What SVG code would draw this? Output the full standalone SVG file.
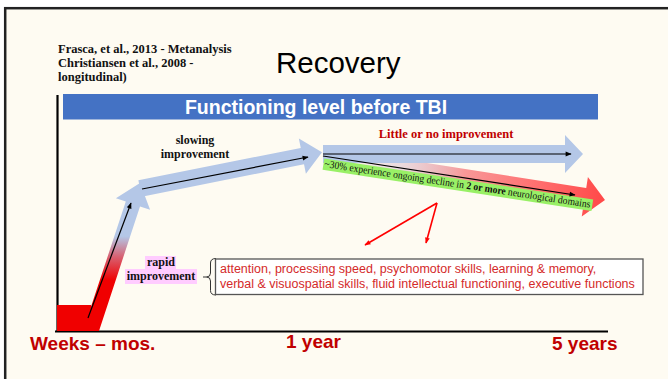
<svg xmlns="http://www.w3.org/2000/svg" width="668" height="379" viewBox="0 0 668 379">
  <defs>
    <style>
      .cite { font-family: "Liberation Serif", "Times New Roman", serif; font-weight: bold; font-size: 12.5px; fill: #111; }
      .lbl { font-family: "Liberation Serif", "Times New Roman", serif; font-weight: bold; font-size: 12px; fill: #111; text-anchor: middle; }
      .axis-lbl { font-family: "Liberation Sans", Arial, sans-serif; font-weight: bold; font-size: 19px; fill: #C00000; }
      .box-txt { font-family: "Liberation Sans", Arial, sans-serif; font-size: 12.5px; fill: #D42A2A; }
      .guide { stroke: #000; stroke-width: 1.2; fill: none; marker-end: url(#ah-black); }
      .pointer { stroke: #FF0000; stroke-width: 1.6; fill: none; marker-end: url(#ah-red); }
      .band { fill: #B4C7E7; }
    </style>
    <marker id="ah-black" viewBox="0 0 10 10" refX="9" refY="5" markerWidth="7" markerHeight="6" markerUnits="userSpaceOnUse" orient="auto">
      <path d="M0,1 L10,5 L0,9 z" fill="#000"/>
    </marker>
    <marker id="ah-red" viewBox="0 0 10 10" refX="9" refY="5" markerWidth="7" markerHeight="6" markerUnits="userSpaceOnUse" orient="auto">
      <path d="M0,1 L10,5 L0,9 z" fill="#FF0000"/>
    </marker>
    <!-- rapid phase: red at the base fading into blue -->
    <linearGradient id="rapid-grad" gradientUnits="userSpaceOnUse" x1="0" y1="331" x2="0" y2="183">
      <stop offset="0" stop-color="#F00000"/>
      <stop offset="0.34" stop-color="#F00000"/>
      <stop offset="0.5" stop-color="#D86070"/>
      <stop offset="0.64" stop-color="#B4C7E7"/>
      <stop offset="1" stop-color="#B4C7E7"/>
    </linearGradient>
    <!-- decline arrow: fades in from the left and turns red -->
    <linearGradient id="decline-grad" x1="0" y1="0" x2="1" y2="0">
      <stop offset="0" stop-color="#D8B8C8" stop-opacity="0"/>
      <stop offset="0.28" stop-color="#D8B8C8" stop-opacity="0.5"/>
      <stop offset="0.5" stop-color="#F89898"/>
      <stop offset="0.75" stop-color="#FF7070"/>
      <stop offset="1" stop-color="#FF4848"/>
    </linearGradient>
  </defs>

  <!-- slide frame -->
  <rect x="0" y="0" width="668" height="379" fill="#FFFFFF"/>
  <rect x="5.2" y="8.2" width="700" height="400" fill="#FEFBF2" stroke="#222" stroke-width="2.5"/>

  <!-- sources -->
  <g id="citations">
    <text class="cite" x="58" y="52.5">Frasca, et al., 2013 - Metanalysis</text>
    <text class="cite" x="58" y="66.5">Christiansen et al., 2008 -</text>
    <text class="cite" x="58" y="80.5">longitudinal)</text>
  </g>

  <g id="title">
    <text x="276" y="73" font-family="'Liberation Sans', Arial, sans-serif" font-size="29.5" fill="#000">Recovery</text>
  </g>

  <g id="baseline-level">
    <rect x="63" y="94" width="535" height="25.5" fill="#4472C4"/>
    <text x="316" y="113.5" text-anchor="middle" font-family="'Liberation Sans', Arial, sans-serif" font-weight="bold" font-size="19.5" fill="#FFFFFF">Functioning level before TBI</text>
  </g>

  <!-- axes -->
  <g id="axes" stroke="#000" stroke-width="2.2">
    <line x1="57.5" y1="95" x2="57.5" y2="332"/>
    <line x1="55" y1="331.5" x2="608" y2="331.5"/>
  </g>

  <g id="time-labels">
    <text class="axis-lbl" x="30" y="350">Weeks – mos.</text>
    <text class="axis-lbl" x="286" y="348">1 year</text>
    <text class="axis-lbl" x="552" y="350">5 years</text>
  </g>

  <!-- recovery trajectory -->
  <g id="rapid-phase">
    <rect x="57" y="305" width="34" height="26" fill="#F00000"/>
    <polygon points="83,331 99,331 140,206.4 150.1,209.7 140,183 115.9,198.3 125.8,201.6" fill="url(#rapid-grad)"/>
  </g>

  <g id="slowing-phase" transform="translate(140,188.5) rotate(-11.3)">
    <polygon class="band" points="0,-8.3 165.6,-8.3 165.6,-18 185.6,0 165.6,18 165.6,8.3 0,8.3"/>
  </g>

  <g id="decline-path" transform="translate(323,156) rotate(8.87)">
    <polygon points="0,-9 265,-9 265,-20 285.4,0 265,20 265,9 0,9" fill="url(#decline-grad)"/>
  </g>

  <g id="plateau-path">
    <polygon class="band" points="323,145 565,145 565,135 583,154 565,173 565,163 323,163"/>
  </g>

  <g id="decline-note" transform="translate(324,167) rotate(8.7)">
    <rect x="-1" y="-8.5" width="272" height="11.5" fill="#99F066"/>
    <text x="0" y="0" textLength="269" lengthAdjust="spacingAndGlyphs" font-family="'Liberation Serif', 'Times New Roman', serif" font-size="10.5" fill="#111">~30% experience ongoing decline in <tspan font-weight="bold">2 or more</tspan> neurological domains</text>
  </g>

  <!-- connectors: trend lines and pointers -->
  <g id="connectors">
    <line class="guide" x1="88" y1="318" x2="131" y2="203"/>
    <line class="guide" x1="142" y1="189" x2="308" y2="157"/>
    <line class="guide" x1="323" y1="154" x2="571" y2="154"/>
    <line class="guide" x1="323" y1="156" x2="575" y2="195"/>
    <polyline class="pointer" points="437,203 365,245"/>
    <polyline class="pointer" points="437,203 426,243"/>
    <path d="M216,258.5 Q210.5,258.5 210.5,263 L210.5,273 Q210.5,277 206.5,277 L203,277 M206.5,277 Q210.5,277 210.5,281 L210.5,290.5 Q210.5,295 216,295" fill="none" stroke="#333" stroke-width="1"/>
  </g>

  <g id="phase-labels">
    <text class="lbl" x="195" y="144">slowing</text>
    <text class="lbl" x="195" y="158">improvement</text>
    <text x="446" y="138" text-anchor="middle" font-family="'Liberation Serif', 'Times New Roman', serif" font-weight="bold" font-size="12.5" fill="#C00000">Little or no improvement</text>
  </g>

  <g id="rapid-label">
    <rect x="145" y="256" width="31" height="13" fill="#FFCCFF"/>
    <rect x="125" y="269" width="72" height="15" fill="#FFCCFF"/>
    <text class="lbl" x="161" y="266">rapid</text>
    <text class="lbl" x="161" y="280">improvement</text>
  </g>

  <g id="domains-box">
    <rect x="215.5" y="259" width="427.5" height="35.5" fill="#FFFFFF" stroke="#555" stroke-width="1.3"/>
    <text class="box-txt" x="220" y="273">attention, processing speed, psychomotor skills, learning &amp; memory,</text>
    <text class="box-txt" x="220" y="288">verbal &amp; visuospatial skills, fluid intellectual functioning, executive functions</text>
  </g>
</svg>
